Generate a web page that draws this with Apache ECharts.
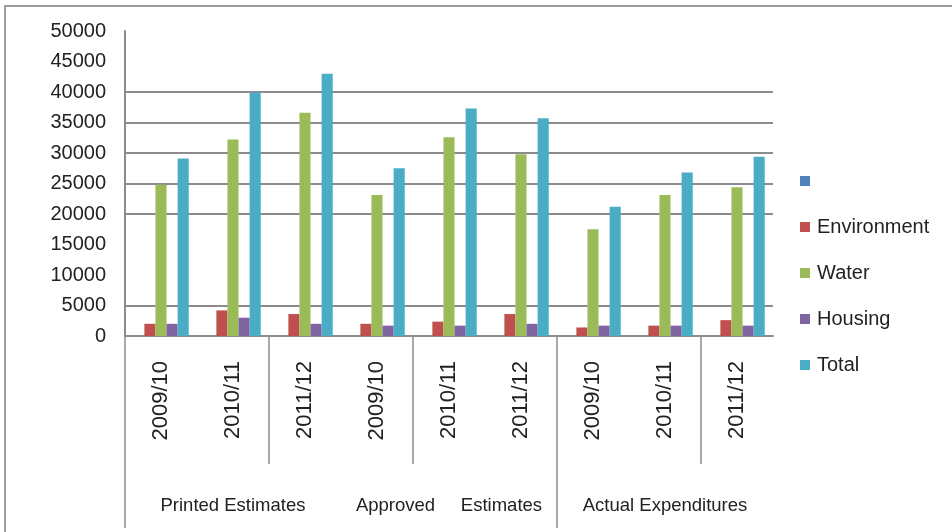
<!DOCTYPE html>
<html>
<head>
<meta charset="utf-8">
<script src="https://cdn.jsdelivr.net/npm/echarts@6/dist/echarts.min.js"></script>
<style>
  html, body { margin: 0; padding: 0; background: #fff; overflow: hidden; }
  /* page frame: only left and top edges are visible in the source */
  #frame { position: absolute; left: 4px; top: 5px; width: 980px; height: 560px;
           border-left: 2px solid #9d9d9d; border-top: 2px solid #9d9d9d; }
  #chart { position: absolute; left: 0; top: 0; width: 952px; height: 532px; }
</style>
</head>
<body>
<div id="frame"></div>
<div id="chart"></div>
<script>
// data
const years = ['2009/10', '2010/11', '2011/12', '2009/10', '2010/11', '2011/12', '2009/10', '2010/11', '2011/12'];
const groups = ['Printed Estimates', 'Approved     Estimates', 'Actual Expenditures'];
const blank = [];
const environment = [2000, 4200, 3600, 2000, 2350, 3600, 1400, 1700, 2600];
const water = [24800, 32200, 36600, 23100, 32600, 29800, 17500, 23100, 24400];
const housing = [2000, 3000, 2000, 1700, 1700, 2000, 1700, 1700, 1700];
const total = [29100, 39900, 43000, 27500, 37300, 35700, 21200, 26800, 29400];

// axis setup
const yMin = 0, yMax = 50000, yStep = 5000;
const gridValues = [0, 5000, 20000, 25000, 30000, 35000, 40000]; // only these lines show in the source
const shortDividers = [2, 4, 8];  // boundaries between year columns
const longDividers = [0, 6];      // full-height boundaries
const boundaries = Array.from({ length: years.length + 1 }, (_, i) => String(i));

const FONT = "'Liberation Sans', Arial, sans-serif";
const TEXT = '#222222';
const LINE = '#8c8c8c';

const chart = echarts.init(document.getElementById('chart'));

function helperAxis(list, len) {
    return {
        type: 'category', data: boundaries, boundaryGap: false, position: 'bottom',
        axisLine: { show: false }, axisLabel: { show: false }, splitLine: { show: false },
        axisTick: { show: true, length: len, interval: (i) => list.includes(i),
                    lineStyle: { color: LINE, width: 1.5 } }
    };
}

function barSeries(name, data, color) {
    return { name, type: 'bar', data, barGap: '0%', barCategoryGap: '23%',
             itemStyle: { color }, xAxisIndex: 0, yAxisIndex: 0 };
}

const option = {
    animation: false,
    textStyle: { fontFamily: FONT },
    grid: { left: 125, right: 179, top: 31, bottom: 196, containLabel: false },
    legend: {
        orient: 'vertical', left: 795, top: 166,
        itemWidth: 10, itemHeight: 10, itemGap: 26, icon: 'rect',
        textStyle: { fontSize: 20, color: TEXT, lineHeight: 20, fontFamily: FONT, padding: [0, 0, 0, 2] },
        data: [' ', 'Environment', 'Water', 'Housing', 'Total']
    },
    xAxis: [
        {
            type: 'category', data: years, position: 'bottom',
            axisLine: { show: true, lineStyle: { color: LINE, width: 2 } },
            axisTick: { show: false },
            axisLabel: { interval: 0, rotate: 90, margin: 25, fontSize: 22, color: TEXT, fontFamily: FONT }
        },
        {
            type: 'category', data: groups, position: 'bottom',
            axisLine: { show: false }, axisTick: { show: false },
            axisLabel: { interval: 0, margin: 160, fontSize: 18.5, color: TEXT, fontFamily: FONT }
        },
        helperAxis(shortDividers, 128),
        helperAxis(longDividers, 192)
    ],
    yAxis: {
        type: 'value', min: yMin, max: yMax, interval: yStep,
        axisLine: { show: true, lineStyle: { color: LINE, width: 2 } },
        axisTick: { show: false },
        splitLine: { show: false },
        axisLabel: { margin: 19, fontSize: 20, color: TEXT, fontFamily: FONT,
                     formatter: (v) => String(v) }
    },
    series: [
        Object.assign(barSeries(' ', blank, '#4F81BD'), {
            markLine: {
                silent: true, z: 1, symbol: ['none', 'none'],
                label: { show: false },
                lineStyle: { color: LINE, width: 2, type: 'solid' },
                data: gridValues.map(v => ({ yAxis: v }))
            }
        }),
        barSeries('Environment', environment, '#C0504D'),
        barSeries('Water', water, '#9BBB59'),
        barSeries('Housing', housing, '#8064A2'),
        barSeries('Total', total, '#4BACC6')
    ]
};

chart.setOption(option);
</script>
</body>
</html>
